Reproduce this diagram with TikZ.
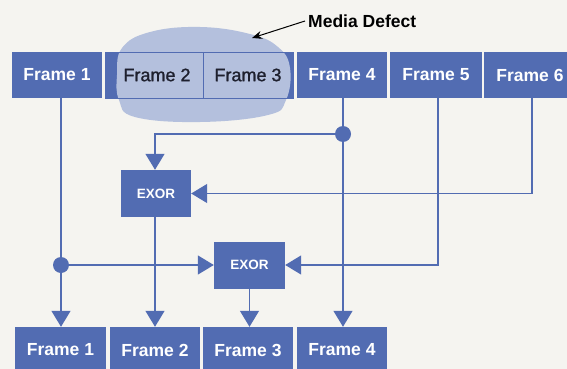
\documentclass[tikz,border=0pt]{standalone}
\usepackage{fontspec}
\setmainfont{Liberation Sans}
\newfontfamily\semibfont[FakeBold=1.2]{Liberation Sans}
\usetikzlibrary{arrows.meta}
\definecolor{fblue}{RGB}{82,108,178}
\definecolor{blobc}{RGB}{180,192,221}
\definecolor{bgc}{RGB}{245,244,240}
\definecolor{dtext}{RGB}{30,32,46}
\begin{document}
\begin{tikzpicture}[x=1pt,y=-1pt,
 frame/.style={fill=fblue,draw=none,inner sep=0,minimum height=46pt,text=white,font=\bfseries\fontsize{17.5}{17.5}\selectfont},
 cell/.style={draw=fblue,line width=0.8pt,inner sep=0,minimum height=46pt,text=dtext,font=\semibfont\fontsize{18}{18}\selectfont},
 exor/.style={fill=fblue,draw=none,inner sep=0,text=white,font=\bfseries\fontsize{13.5}{13.5}\selectfont},
 conn/.style={draw=fblue,line width=1.3pt},
 arr/.style={conn,-{Triangle[width=19pt,length=16pt]}},
 dotnode/.style={circle,fill=fblue,inner sep=0,minimum size=16pt}
]
\fill[bgc] (0,0) rectangle (567,369);
\useasboundingbox (0,0) rectangle (567,369);

% top row
\node[frame,minimum width=90pt] (F1) at (57,75) {Frame 1};
\node[frame,minimum width=188pt] (F23) at (199,75) {};
\fill[blobc] plot[smooth cycle,tension=0.7] coordinates {(117,75) (122,48) (150,32) (200,27) (250,34) (278,47) (290,68) (286,100) (268,115) (200,122) (135,117) (119,100)};
\node[cell,minimum width=98pt] (F2) at (154,75) {\hspace*{6pt}Frame 2};
\node[cell,minimum width=90pt] (F3) at (248,75) {Frame 3};
\node[frame,minimum width=90pt] (F4) at (342,75) {Frame 4};
\node[frame,minimum width=92pt] (F5) at (436,75) {Frame 5};
\node[frame,minimum width=92pt] (F6) at (530,75) {Frame 6};

% media defect label
\node[font=\bfseries\fontsize{17.5}{17.5}\selectfont,anchor=west,inner sep=0] (md) at (308,21) {Media Defect};
\coordinate (mdtip) at (252,38);
\draw[line width=1pt,-{Stealth[length=10pt,width=8pt]}] ([xshift=-3pt]md.west) -- (mdtip);

% EXOR gates
\node[exor,minimum width=70pt,minimum height=47pt] (X1) at (156,193.5) {EXOR};
\node[exor,minimum width=71pt,minimum height=47pt] (X2) at (249.5,265) {EXOR};

% bottom row
\node[frame,minimum width=91pt] (B1) at (60.5,350) {Frame 1};
\node[frame,minimum width=90pt] (B2) at (155,350) {Frame 2};
\node[frame,minimum width=90pt] (B3) at (248,350) {Frame 3};
\node[frame,minimum width=90pt] (B4) at (342,350) {Frame 4};

% junctions and bends
\node[dotnode] (dA) at (343,134) {};
\node[dotnode] (dB) at (61,265) {};
\coordinate (c6) at (532,193.5);
\coordinate (c5) at (438,265);
\coordinate (cA) at (155,134);

% connectors
\draw[conn] (F4.south -| dA) -- (dA);
\draw[arr] (dA) -- (cA) -- (cA |- X1.north);
\draw[arr] (dA) -- (dA |- B4.north);
\draw[arr] (F6.south -| c6) -- (c6) -- (X1.east);
\draw[arr] (F5.south -| c5) -- (c5) -- (X2.east);
\draw[conn] (F1.south -| dB) -- (dB);
\draw[arr] (dB) -- (X2.west);
\draw[arr] (dB) -- (dB |- B1.north);
\draw[arr] (cA |- X1.south) -- (cA |- B2.north);
\draw[arr] (X2.south) -- (X2.south |- B3.north);
\end{tikzpicture}
\end{document}
